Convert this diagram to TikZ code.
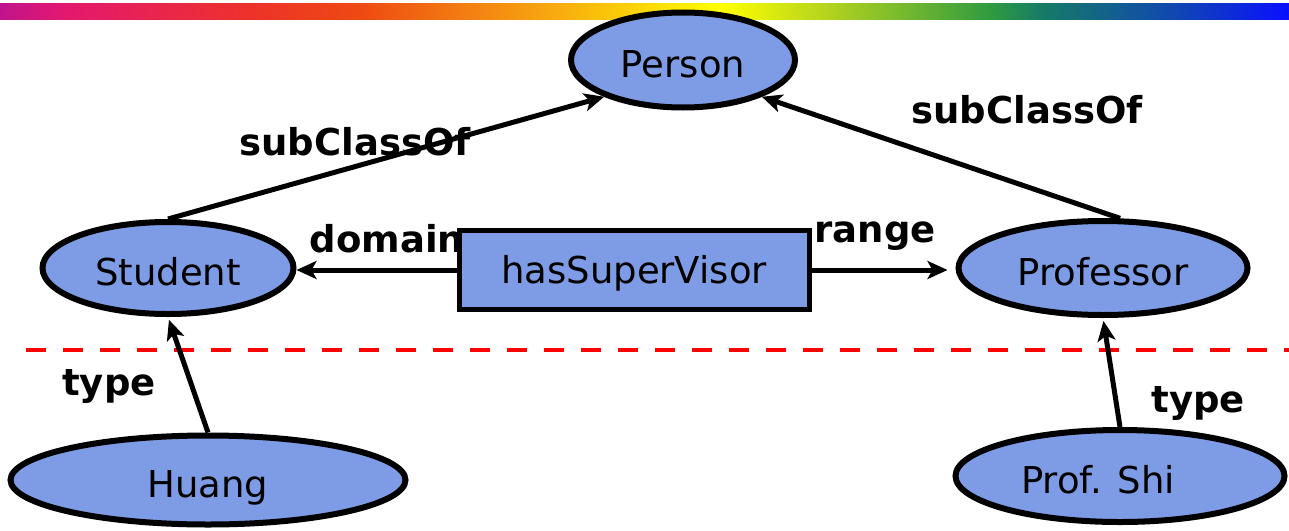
\documentclass[tikz,border=0pt]{standalone}
\usepackage{fontspec}
\setmainfont{DejaVu Sans}
\usetikzlibrary{arrows.meta,shapes.geometric,calc}

\definecolor{nodeblue}{HTML}{7E9CE5}
\definecolor{c0}{HTML}{C0148C}
\definecolor{c1}{HTML}{E3186F}
\definecolor{c2}{HTML}{EE3328}
\definecolor{c3}{HTML}{EE4A12}
\definecolor{c4}{HTML}{F7A410}
\definecolor{c5}{HTML}{FFFF00}
\definecolor{c6}{HTML}{B5D41E}
\definecolor{c7}{HTML}{2E9A40}
\definecolor{c8}{HTML}{157A68}
\definecolor{c9}{HTML}{1048B0}
\definecolor{c10}{HTML}{0A10FF}

% rainbow strip along the top edge (visible part is 25bp..75bp)
\pgfdeclarehorizontalshading{rainbow}{100bp}{%
  color(0bp)=(c0); color(25bp)=(c0); color(27.5bp)=(c1); color(35bp)=(c2);
  color(39bp)=(c3); color(46bp)=(c4); color(53bp)=(c5); color(57bp)=(c6);
  color(63.5bp)=(c7); color(65.5bp)=(c8); color(70.5bp)=(c9);
  color(75bp)=(c10); color(100bp)=(c10)}

\tikzset{
  cls/.style={ellipse, draw=black, line width=6pt, fill=nodeblue,
    inner sep=0pt, text height=35pt, text depth=0pt,
    font=\fontsize{37}{44}\selectfont},
  propbox/.style={rectangle, draw=black, line width=5pt, fill=nodeblue,
    inner sep=0pt, text height=27pt, text depth=0pt,
    font=\fontsize{37}{44}\selectfont},
  lbl/.style={anchor=base, inner sep=0pt,
    font=\fontsize{37}{44}\selectfont\bfseries},
  arr/.style={line width=5pt,
    -{Stealth[length=20pt,width=18pt,inset=5pt]}},
}

\begin{document}
\begin{tikzpicture}[x=1pt,y=-1pt]
  \useasboundingbox (0,0) rectangle (1289,530);

  \shade[shading=rainbow] (0,3) rectangle (1289,19);

  % separation between schema and instances
  \draw[red, line width=4pt, dash pattern=on 20pt off 17pt] (26,350) -- (1289,350);

  % classes, property and instances
  \node[cls, minimum width=224pt, minimum height=95pt] (person) at (683,60) {Person};
  \node[cls, minimum width=251pt, minimum height=92pt] (student) at (168,268) {Student};
  \node[cls, minimum width=289pt, minimum height=94pt] (prof) at (1103,268) {Professor};
  \node[propbox, minimum width=350pt, minimum height=79pt] (sv) at (634,270) {hasSuperVisor};
  \node[cls, minimum width=395pt, minimum height=89pt] (huang) at (208,480) {Huang};
  \node[cls, minimum width=329pt, minimum height=92pt] (shi) at (1120,476) {Prof. Shi\hspace*{44pt}};

  % connectors
  \draw[arr] (student.north) -- (person.205);
  \draw[arr] (prof.71) -- (person.-25);
  \draw[arr] (sv.west) -- (sv.west -| student.east);
  \draw[arr, shorten >=8pt] (sv.east) -- (sv.east -| prof.west);
  \draw[arr, shorten >=3pt] (huang.north) -- (student.south);
  \draw[arr, shorten >=3pt] (shi.north) -- (prof.south);

  % edge labels
  \node[lbl] (l1) at (355,155) {subClassOf};
  \node[lbl] (l2) at (1027,123) {subClassOf};
  \node[lbl] (l3) at (387,252) {domain};
  \node[lbl] (l4) at (875,242) {range};
  \node[lbl] (l5) at (109,395) {type};
  \node[lbl] (l6) at (1198,412) {type};
\end{tikzpicture}
\end{document}
